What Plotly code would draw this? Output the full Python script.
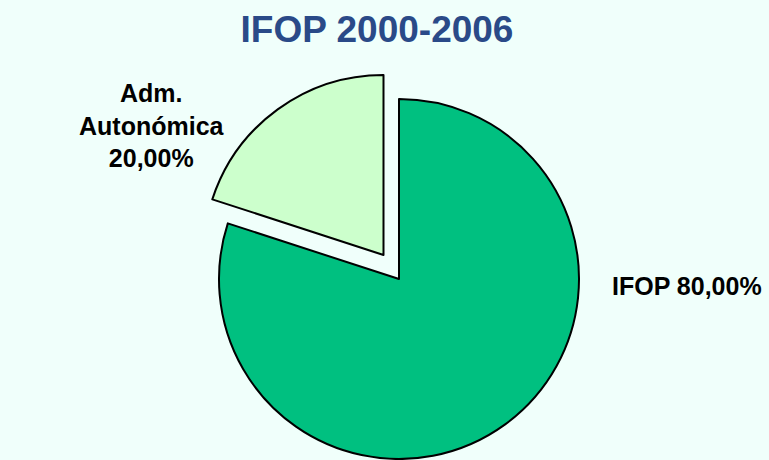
import plotly.graph_objects as go

# ---- data ----
labels = ["IFOP", "Adm. Autonómica"]
label_lines = ["IFOP", "Adm.<br>Autonómica"]
values = [80, 20]
colors = ["#00C080", "#CCFFCC"]
title_text = "IFOP 2000-2006"

W, H = 769, 460
total = sum(values)
pct = [f"{v / total * 100:.2f}".replace(".", ",") + "%" for v in values]


def dom(cx, cy, r):
    return dict(x=[(cx - r) / W, (cx + r) / W], y=[1 - (cy + r) / H, 1 - (cy - r) / H])


fig = go.Figure()

# main body (IFOP) – non-pulled slice
fig.add_trace(go.Pie(
    labels=labels, values=values, sort=False, direction="clockwise", rotation=0,
    marker=dict(colors=[colors[0], "rgba(0,0,0,0)"], line=dict(color="black", width=[2, 0])),
    textinfo="none", hoverinfo="skip", showlegend=False,
    domain=dom(399, 279, 180),
))
# exploded slice (Adm. Autonómica)
fig.add_trace(go.Pie(
    labels=labels, values=values, sort=False, direction="clockwise", rotation=0,
    marker=dict(colors=["rgba(0,0,0,0)", colors[1]], line=dict(color="black", width=[0, 2])),
    textinfo="none", hoverinfo="skip", showlegend=False,
    domain=dom(383.5, 255, 180),
))

font_lbl = dict(family="Liberation Sans, Arial, sans-serif", size=25, color="black", weight="bold")

fig.add_annotation(x=687 / W, y=1 - 286 / H, xref="paper", yref="paper",
                   text=f"{label_lines[0]} {pct[0]}", showarrow=False,
                   xanchor="center", yanchor="middle", font=font_lbl)
fig.add_annotation(x=152 / W, y=1 - 126 / H, xref="paper", yref="paper",
                   text=f"{label_lines[1]}<br>{pct[1]}", showarrow=False,
                   xanchor="center", yanchor="middle", align="center", font=font_lbl)

fig.update_layout(
    width=W, height=H, autosize=False,
    margin=dict(l=0, r=0, t=0, b=0),
    paper_bgcolor="#F0FFFB", plot_bgcolor="#F0FFFB",
    title=dict(text=title_text, x=377 / W, y=1 - 29 / H, xanchor="center", yanchor="middle",
               font=dict(family="Liberation Sans, Arial, sans-serif", size=37,
                         color="#2A4A88", weight="bold")),
)

fig.write_html("out.html", config={"displayModeBar": False},
               post_script="document.body.style.margin='0';document.body.style.overflow='hidden';")
